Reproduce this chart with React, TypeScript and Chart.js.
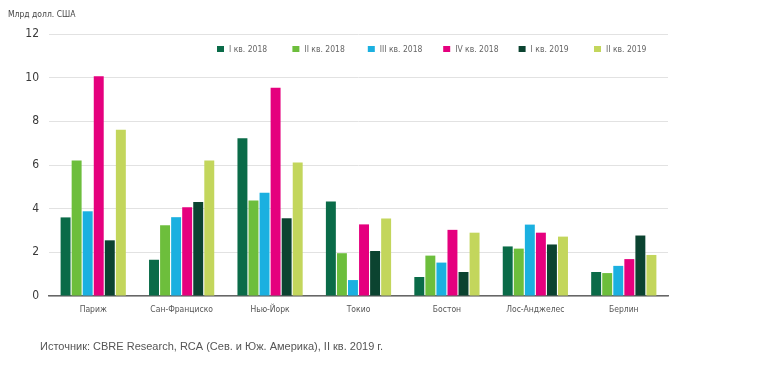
import React, { useEffect, useRef } from "react";
import { Chart, registerables } from "chart.js";

Chart.register(...registerables);

const cities = ["Париж", "Сан-Франциско", "Нью-Йорк", "Токио", "Бостон", "Лос-Анджелес", "Берлин"];
const seriesLabels = ["I кв. 2018", "II кв. 2018", "III кв. 2018", "IV кв. 2018", "I кв. 2019", "II кв. 2019"];
const seriesColors = ["#0a6b48", "#6dbe3c", "#1bb0e0", "#e5007e", "#0b4330", "#c3d65c"];
const q1_2018 = [3.6, 1.66, 7.23, 4.33, 0.87, 2.27, 1.1];
const q2_2018 = [6.21, 3.24, 4.37, 1.96, 1.85, 2.17, 1.05];
const q3_2018 = [3.88, 3.61, 4.73, 0.73, 1.53, 3.27, 1.38];
const q4_2018 = [10.06, 4.06, 9.54, 3.28, 3.03, 2.9, 1.69];
const q1_2019 = [2.55, 4.31, 3.56, 2.06, 1.1, 2.36, 2.77];
const q2_2019 = [7.61, 6.21, 6.12, 3.55, 2.9, 2.72, 1.88];
const yTicks = [0, 2, 4, 6, 8, 10, 12];
const unitLabel = "Млрд долл. США";
const sourceText = "Источник: CBRE Research, RCA (Сев. и Юж. Америка), II кв. 2019 г.";

const seriesValues = [q1_2018, q2_2018, q3_2018, q4_2018, q1_2019, q2_2019];

const smallFont = "'DejaVu Sans Condensed', sans-serif";

const extrasPlugin = {
  id: "extras",
  afterDraw(chart: any) {
    const ctx = chart.ctx;
    ctx.save();
    ctx.fillStyle = "#444";
    ctx.font = "8.5px " + smallFont;
    ctx.textBaseline = "middle";
    ctx.textAlign = "left";
    ctx.fillText(unitLabel, 8, 15);
    const startX = 220;
    const step = 75.4;
    const ly = 49;
    seriesLabels.forEach((lab, i) => {
      const x = startX + i * step;
      ctx.fillStyle = seriesColors[i];
      ctx.fillRect(x - 3, ly - 3, 7, 6);
      ctx.fillStyle = "#666";
      ctx.font = "8.5px " + smallFont;
      ctx.fillText(lab, x + 9, ly + 0.5);
    });
    ctx.fillStyle = "#555";
    ctx.font = "11px 'Liberation Sans', Arial, sans-serif";
    ctx.fillText(sourceText, 40, 347);
    ctx.restore();
  },
};

export default function App() {
  const ref = useRef<HTMLCanvasElement>(null);
  useEffect(() => {
    if (!ref.current) return;
    const chart = new Chart(ref.current, {
      type: "bar",
      data: {
        labels: cities,
        datasets: seriesLabels.map((label, i) => ({
          label,
          data: seriesValues[i],
          backgroundColor: seriesColors[i],
          borderWidth: 0,
          barPercentage: 0.9,
          categoryPercentage: 0.75,
        })),
      },
      options: {
        responsive: false,
        animation: false,
        layout: { padding: { top: 34, left: 0, right: 100, bottom: 0 } },
        plugins: {
          legend: { display: false },
          tooltip: { enabled: false },
          title: { display: false },
        },
        scales: {
          x: {
            grid: { display: false, drawTicks: false },
            border: { display: true, color: "#666", width: 1.5 },
            ticks: {
              color: "#555",
              font: { size: 8.5, family: smallFont },
              padding: 9,
              maxRotation: 0,
              autoSkip: false,
            },
            afterFit: (s: any) => {
              s.height = 78;
            },
          },
          y: {
            min: 0,
            max: 12,
            afterBuildTicks: (s: any) => {
              s.ticks = yTicks.map((v) => ({ value: v }));
            },
            grid: { color: "#e2e2e2", lineWidth: 1, drawTicks: false },
            border: { display: false },
            ticks: {
              color: "#3a3a3a",
              font: { size: 12, family: smallFont },
              padding: 10,
            },
            afterFit: (s: any) => {
              s.width = 49;
            },
          },
        },
      },
      plugins: [extrasPlugin],
    });
    return () => chart.destroy();
  }, []);
  return (
    <div style={{ position: "absolute", left: 0, top: 0, width: 768, height: 374, background: "#fff" }}>
      <canvas ref={ref} width={768} height={374} />
    </div>
  );
}
